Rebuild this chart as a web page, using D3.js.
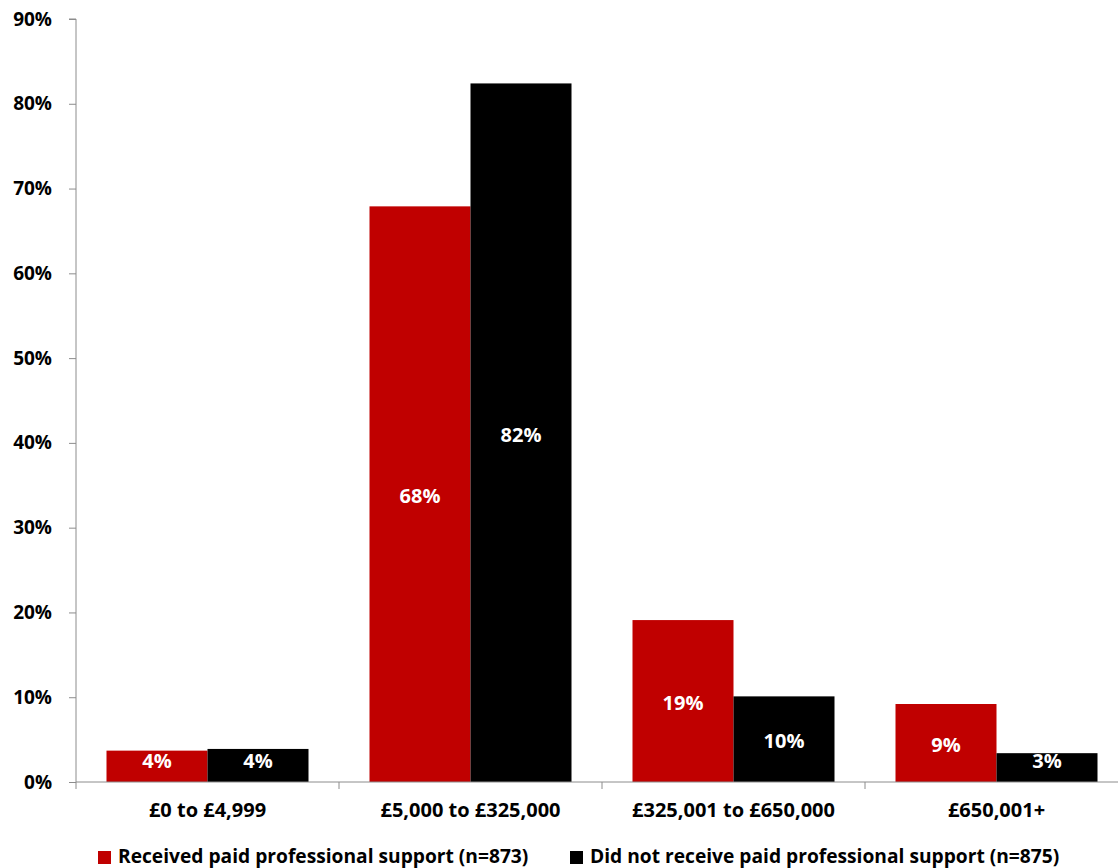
<!DOCTYPE html>
<html>
<head>
<meta charset="utf-8">
<script src="https://cdn.jsdelivr.net/npm/d3@7"></script>
<style>
  html, body { margin: 0; padding: 0; background: #fff; }
  svg { display: block; }
  text { font-family: "Open Sans", Lato, sans-serif; font-weight: bold; }
</style>
</head>
<body>
<svg id="chart" width="1118" height="868"></svg>
<script>
// Property value bands
const categories = ["£0 to £4,999", "£5,000 to £325,000", "£325,001 to £650,000", "£650,001+"];
// Share of respondents (%) in each band
const receivedSupport = [3.7, 67.9, 19.1, 9.2];
const noSupport = [3.9, 82.4, 10.1, 3.4];
const seriesNames = [
  "Received paid professional support (n=873)",
  "Did not receive paid professional support (n=875)"
];
const seriesColors = ["#c00000", "#000000"];
const yTicks = [0, 10, 20, 30, 40, 50, 60, 70, 80, 90];

const svg = d3.select("#chart");
const plotLeft = 76, plotRight = 1128, plotTop = 19, plotBottom = 782;

const x0 = d3.scaleBand().domain(categories).range([plotLeft, plotRight]).padding(0);
const x1 = d3.scaleBand().domain([0, 1]).range([0, x0.bandwidth()])
  .paddingInner(0).paddingOuter(0.302);
const y = d3.scaleLinear().domain([0, 90]).range([plotBottom, plotTop]);

const axisColor = "#8c8c8c";

// Bars
const series = [receivedSupport, noSupport];
const groups = svg.append("g").selectAll("g")
  .data(categories)
  .join("g")
  .attr("transform", d => `translate(${x0(d)},0)`);

groups.selectAll("rect")
  .data((d, i) => series.map((s, k) => ({ k, v: s[i] })))
  .join("rect")
  .attr("x", d => x1(d.k))
  .attr("width", x1.bandwidth())
  .attr("y", d => y(d.v))
  .attr("height", d => y(0) - y(d.v))
  .attr("fill", d => seriesColors[d.k]);

// Value labels: centred in the bar, kept clear of the baseline on short bars
groups.selectAll("text.val")
  .data((d, i) => series.map((s, k) => ({ k, v: s[i] })))
  .join("text")
  .attr("class", "val")
  .attr("x", d => x1(d.k) + x1.bandwidth() / 2)
  .attr("y", d => Math.min((y(d.v) + y(0)) / 2 + 9, y(0) - 14))
  .attr("text-anchor", "middle")
  .attr("fill", "#fff")
  .style("font-size", "20px")
  .text(d => Math.round(d.v) + "%");

// Y axis
const yAxis = svg.append("g")
  .attr("transform", `translate(${plotLeft},0)`)
  .call(d3.axisLeft(y).tickValues(yTicks).tickSize(7).tickPadding(17)
    .tickFormat(d => d + "%"));
yAxis.select(".domain").attr("stroke", axisColor).attr("d", `M-7,${plotTop}H0V${plotBottom}`);
yAxis.selectAll(".tick line").attr("stroke", axisColor);
yAxis.selectAll(".tick text").attr("fill", "#000").style("font-size", "19px")
  .style("font-family", "'Open Sans', sans-serif");

// X axis with boundary ticks between categories
const xAxis = svg.append("g").attr("transform", `translate(0,${plotBottom})`);
xAxis.append("line").attr("x1", plotLeft).attr("x2", plotRight).attr("stroke", axisColor);
xAxis.selectAll("line.tick")
  .data(categories)
  .join("line")
  .attr("class", "tick")
  .attr("x1", d => x0(d)).attr("x2", d => x0(d))
  .attr("y1", 0).attr("y2", 7)
  .attr("stroke", axisColor);
xAxis.selectAll("text")
  .data(categories)
  .join("text")
  .attr("x", d => x0(d) + x0.bandwidth() / 2)
  .attr("y", 35)
  .attr("text-anchor", "middle")
  .attr("fill", "#000")
  .style("font-size", "20px")
  .text(d => d);

// Legend
const legendItems = [
  { name: seriesNames[0], color: seriesColors[0], x: 98 },
  { name: seriesNames[1], color: seriesColors[1], x: 570 }
];
const legend = svg.append("g");
legend.selectAll("rect")
  .data(legendItems)
  .join("rect")
  .attr("x", d => d.x).attr("y", 851)
  .attr("width", 13).attr("height", 13)
  .attr("fill", d => d.color);
legend.selectAll("text")
  .data(legendItems)
  .join("text")
  .attr("x", d => d.x + 20).attr("y", 863)
  .attr("fill", "#000")
  .style("font-size", "19.2px")
  .text(d => d.name);
</script>
</body>
</html>
